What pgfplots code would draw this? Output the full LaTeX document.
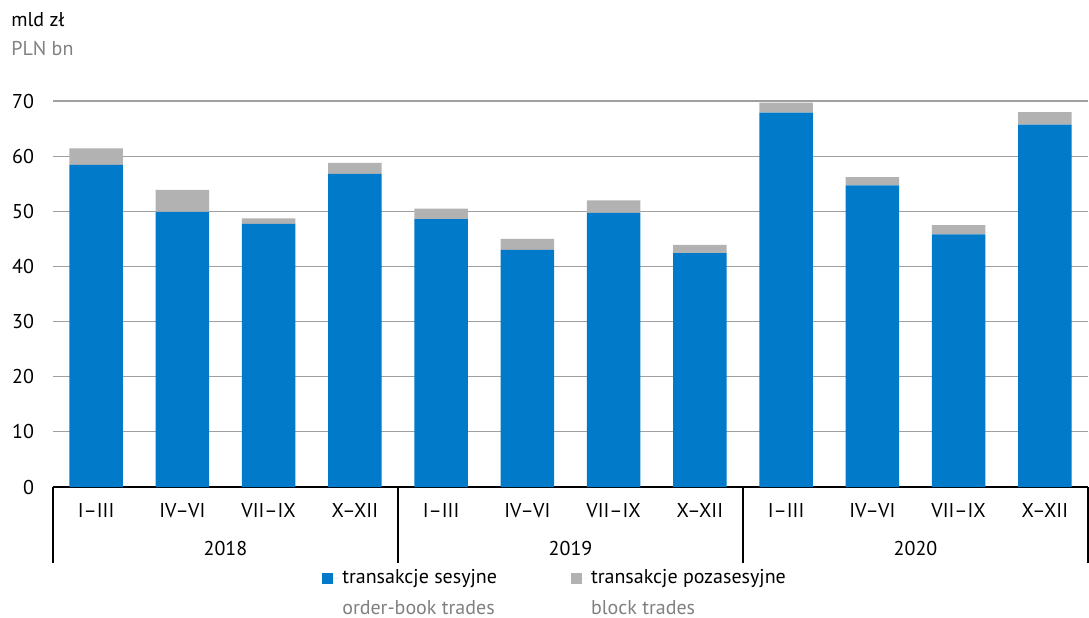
\documentclass[border=0pt]{standalone}
\usepackage{fontspec}
\setmainfont{PT Sans}
\usepackage{pgfplots}
\pgfplotsset{compat=1.18}
\definecolor{cblue}{RGB}{0,122,201}
\definecolor{cgray}{RGB}{178,178,178}
\definecolor{tgray}{RGB}{128,128,128}
\definecolor{gridc}{RGB}{160,160,160}
\begin{document}
\begin{tikzpicture}[font=\fontsize{10}{12}\selectfont]
\begin{axis}[
 name=ax,
 scale only axis, width=517.5pt, height=193pt,
 ybar stacked, bar width=0.62,
 xmin=-0.5, xmax=11.5, ymin=0, ymax=70,
 ytick={0,10,...,70},
 xtick={0,...,11},
 xticklabels={I--III,IV--VI,VII--IX,X--XII,I--III,IV--VI,VII--IX,X--XII,I--III,IV--VI,VII--IX,X--XII},
 axis lines=left, axis line style={-, black, line width=0.6pt},
 y axis line style={draw=none},
 ymajorgrids=true, xmajorgrids=false, grid style={draw=gridc, line width=0.6pt},
 major tick length=0pt,
 extra x ticks={-0.5,3.5,7.5,11.5}, extra x tick labels={},
 extra x tick style={major tick length=38pt, tick align=outside, tick style={black, line width=0.6pt}, xmajorgrids=false},
 xticklabel style={anchor=base, yshift=-15pt},
 yticklabel style={xshift=-6pt},
 /pgf/number format/assume math mode=true,
 clip=false,
 legend cell align=left,
 legend columns=2,
 legend style={draw=none, fill=none, at={(rel axis cs:0.254,-0.197)}, anchor=north west,
   nodes={inner ysep=1pt},
   /tikz/every even column/.append style={column sep=35pt}, row sep=4.8pt},
]
\addplot[fill=cblue, draw=none, legend image code/.code={\fill[cblue] (0pt,-2.75pt) rectangle (5.5pt,2.75pt); \path (0pt,0pt) -- (8pt,0pt);}] coordinates {
(0,58.4) (1,49.9) (2,47.7) (3,56.8) (4,48.6) (5,43.0) (6,49.7) (7,42.4) (8,67.9) (9,54.7) (10,45.8) (11,65.7)};
\addplot[fill=cgray, draw=none, legend image code/.code={\fill[cgray] (0pt,-2.75pt) rectangle (5.5pt,2.75pt); \path (0pt,0pt) -- (8pt,0pt);}] coordinates {
(0,3.0) (1,4.0) (2,1.0) (3,2.0) (4,1.9) (5,2.0) (6,2.3) (7,1.5) (8,1.8) (9,1.5) (10,1.7) (11,2.3)};
\addlegendimage{empty legend}
\addlegendimage{empty legend}
\legend{transakcje sesyjne, transakcje pozasesyjne, \textcolor{tgray}{order-book trades}, \textcolor{tgray}{block trades}}
\node[anchor=base] at ([yshift=-34pt]axis cs:1.5,0) {2018};
\node[anchor=base] at ([yshift=-34pt]axis cs:5.5,0) {2019};
\node[anchor=base] at ([yshift=-34pt]axis cs:9.5,0) {2020};
\node[anchor=base west, inner sep=0pt] at ([xshift=-21pt, yshift=37.5pt]rel axis cs:0,1) {mld zł};
\node[anchor=base west, inner sep=0pt, text=tgray] at ([xshift=-21pt, yshift=23pt]rel axis cs:0,1) {PLN bn};
\end{axis}
\pgfresetboundingbox
\path ([xshift=-26.5pt,yshift=-65pt]ax.south west) rectangle ([xshift=0.5pt,yshift=50.5pt]ax.north east);
\end{tikzpicture}
\end{document}
